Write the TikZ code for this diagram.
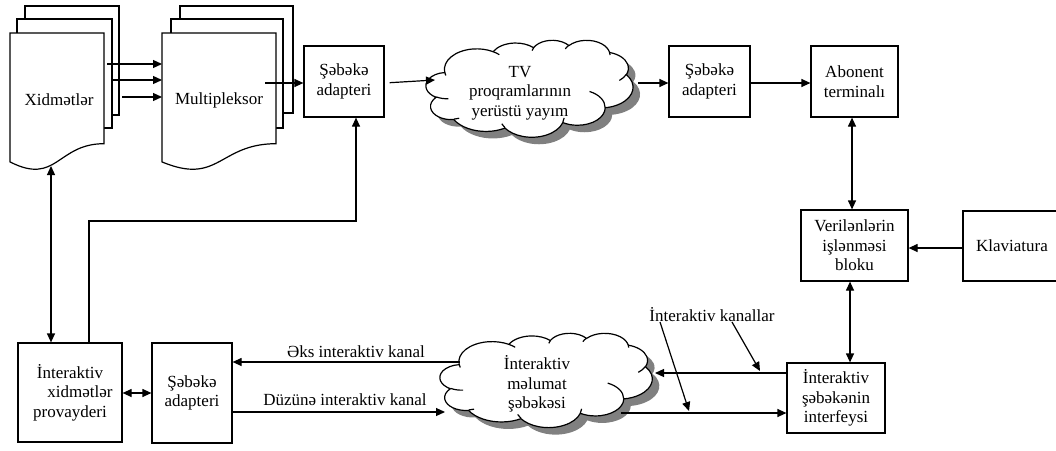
\documentclass[tikz,border=0pt]{standalone}
\usepackage{fontspec}
\setmainfont{Liberation Serif}
\usetikzlibrary{arrows.meta}

% Elliptical arc given by its radii and by the visual start angle and sweep
% (degrees); stores the matching TikZ arc operation in \<name>.
\newcommand\defarc[5]{%
  \pgfmathsetmacro\cta{atan2((#2)*sin(#4),(#3)*cos(#4))}%
  \pgfmathsetmacro\ctb{atan2((#2)*sin((#4)+(#5)),(#3)*cos((#4)+(#5)))}%
  \pgfmathsetmacro\ctd{mod(\ctb-\cta+720,360)}%
  \expandafter\xdef\csname #1\endcsname{arc[x radius=#2, y radius=#3, start angle=\cta, delta angle=\ctd]}%
}
% cloud outline, in a 43200 x 43200 frame
\defarc{cldA}{6753}{9190}{-190.4875}{123.7805}
\defarc{cldB}{5333}{7267}{-144.1024}{89.9452}
\defarc{cldC}{4365}{5945}{-145.8079}{99.7230}
\defarc{cldD}{4857}{6595}{-130.9861}{117.2417}
\defarc{cldE}{5333}{7273}{-78.7089}{109.0269}
\defarc{cldF}{6775}{9220}{-46.2673}{130.2690}
\defarc{cldG}{5785}{7867}{0.6250}{114.0333}
\defarc{cldH}{6752}{9215}{22.4516}{115.1726}
\defarc{cldI}{7720}{10543}{66.2426}{75.7110}
\defarc{cldJ}{4360}{5918}{-274.9421}{146.7356}
\defarc{cldK}{4345}{5945}{-246.8285}{152.5189}
% inner curls of the cloud
\defarc{crlA}{4345}{5945}{86.7420}{26.4295}
\defarc{crlB}{4360}{5918}{73.6105}{11.4475}
\defarc{crlC}{6752}{9215}{137.6242}{14.0811}
\defarc{crlD}{6752}{9215}{6.4533}{15.9984}
\defarc{crlE}{5785}{7867}{-70.2924}{70.9174}
\defarc{crlF}{5333}{7273}{30.3180}{27.7515}
\defarc{crlG}{4857}{6595}{-13.7443}{14.8589}
\defarc{crlH}{4857}{6595}{-149.1815}{18.1954}
\defarc{crlI}{4365}{5945}{-163.4943}{17.6864}
\defarc{crlJ}{6753}{9190}{-66.7070}{12.3194}
\defarc{crlK}{6753}{9190}{157.6544}{11.8582}

\newcommand\cloudpath{(3900,14370) \cldA \cldB \cldC \cldD \cldE \cldF \cldG \cldH \cldI \cldJ \cldK -- cycle}
\newcommand\cloudcurls{(4693,26177) \crlA (6928,34899) \crlB (16478,39090) \crlC
  (28827,34751) \crlD (34129,22954) \crlE (41798,15354) \crlF (38324,5426) \crlG
  (29078,3952) \crlH (22141,4720) \crlI (14000,5192) \crlJ (4127,15789) \crlK}

\begin{document}
\begin{tikzpicture}[x=1pt,y=-1pt,
  every node/.style={font=\fontsize{17}{19.5}\selectfont},
  box/.style={draw, line width=1.2pt, inner sep=0pt, align=center},
  ln/.style={line width=1.2pt},
  arr/.style={ln, -{Triangle[length=9pt,width=8pt]}},
  dbl/.style={ln, {Triangle[length=9pt,width=8pt]}-{Triangle[length=9pt,width=8pt]}},
  page/.style={draw, line width=1.2pt, fill=white},
  cloudline/.style={line width=1.2pt},
  cloudshadow/.style={fill=black!50},
]
\useasboundingbox (0,0) rectangle (1056,450);
\clip (0,0) rectangle (1056,450);

% --- service documents (stacked pages) ---
\draw[page] (25,6) rectangle (119,115);
\draw[page] (17,19) rectangle (112,128);
\draw[page] (10,33) -- (104,33) -- (104,143.7)
  .. controls (57,143.7) and (57,185.8) .. (10,161.9) -- cycle;
\node (xid) at (59,100) {Xidmətlər};
\coordinate (xidbot) at (51,166);

% --- multiplexer (stacked pages) ---
\draw[page] (180,6) rectangle (293,113);
\draw[page] (171,19) rectangle (283,128);
\draw[page] (162,33) -- (276,33) -- (276,143.7)
  .. controls (219,143.7) and (219,185.8) .. (162,161.9) -- cycle;
\node (mux) at (219,100) {Multipleksor};

% page outputs to the multiplexer
\coordinate (s1) at (107,64);  \coordinate (t1) at (162,64);
\coordinate (s2) at (113,80);  \coordinate (t2) at (162,80);
\coordinate (s3) at (122,97);  \coordinate (t3) at (162,97);
\draw[arr] (s1) -- (t1);
\draw[arr] (s2) -- (t2);
\draw[arr] (s3) -- (t3);
\coordinate (muxout) at (265,83);

% --- blocks ---
\node[box, minimum width=80pt, minimum height=71pt] (ad1) at (344,81.5) {Şəbəkə\\adapteri};
\node[box, minimum width=81pt, minimum height=71pt] (ad2) at (709.5,81.5) {Şəbəkə\\adapteri};
\node[box, minimum width=87pt, minimum height=71pt] (abon) at (854.5,81.5) {Abonent\\terminalı};
\node[box, minimum width=107pt, minimum height=71pt] (proc) at (854.5,245.5) {Verilənlərin\\işlənməsi\\bloku};
\node[box, minimum width=98pt, minimum height=70pt] (klav) at (1012,246) {Klaviatura};
\node[box, minimum width=98pt, minimum height=70pt] (ifc) at (836,398) {İnteraktiv\\şəbəkənin\\interfeysi};
\node[box, minimum width=104pt, minimum height=99pt] (prov) at (70,392.5) {İnteraktiv\\\hspace*{20pt}xidmətlər\\provayderi};
\node[box, minimum width=80pt, minimum height=100pt] (ad3) at (192,393) {Şəbəkə\\adapteri};

% --- broadcast cloud ---
\begin{scope}[shift={(433,47)}, x=0.0047917pt, y=-0.0022454pt]
  \fill[cloudshadow] \cloudpath;
\end{scope}
\begin{scope}[shift={(426,40)}, x=0.0047917pt, y=-0.0022454pt]
  \filldraw[cloudline, fill=white] \cloudpath;
  \draw[cloudline] \cloudcurls;
\end{scope}
\node[align=center] (tv) at (520,93) {TV\\proqramlarının\\yerüstü yayım};

% --- interactive network cloud ---
\begin{scope}[shift={(447,340)}, x=0.0049074pt, y=-0.0021759pt]
  \fill[cloudshadow] \cloudpath;
\end{scope}
\begin{scope}[shift={(440,333)}, x=0.0049074pt, y=-0.0021759pt]
  \filldraw[cloudline, fill=white] \cloudpath;
  \draw[cloudline] \cloudcurls;
\end{scope}
\node[align=center] (net) at (537,384) {İnteraktiv\\məlumat\\şəbəkəsi};

% cloud edge points
\coordinate (tvin)  at (435,80);
\coordinate (tvout) at (638,83);
\coordinate (netA)  at (460,362);
\coordinate (netB)  at (445,412);
\coordinate (netC)  at (655,373);
\coordinate (netD)  at (621,413);

% --- upper chain ---
\draw[arr] (muxout) -- (muxout -| ad1.west);
\draw[arr, shorten <=5pt] (ad1.east |- 0,83) -- (tvin);
\draw[arr] (tvout) -- (tvout -| ad2.west);
\draw[arr] (ad2.east |- 0,83) -- (abon.west |- 0,83);
\draw[dbl] (abon.south -| 852,0) -- (proc.north -| 852,0);
\draw[arr] (klav.west |- 0,248) -- (proc.east |- 0,248);
\draw[dbl] (proc.south -| 850,0) -- (ifc.north -| 850,0);

% --- provider links ---
\draw[dbl] (xidbot) -- (prov.north -| xidbot);
\draw[arr] (prov.north -| 89,0) |- (356,221) -- (ad1.south -| 356,0);
\draw[dbl] (prov.east |- 0,393) -- (ad3.west |- 0,393);

% --- interactive channels ---
\draw[arr] (netA) -- (ad3.east |- netA);
\draw[arr] (ad3.east |- netB) -- (netB);
\draw[arr] (ifc.west |- netC) -- (netC);
\draw[arr] (netD) -- (ifc.west |- netD);

\node (eks) at (356,352) {Əks interaktiv kanal};
\node (duz) at (345,400) {Düzünə interaktiv kanal};
\node (kan) at (712,315) {İnteraktiv kanallar};
\coordinate (k1) at (689,411);
\coordinate (k2) at (760,371);
\draw[arr] (660,322) -- (k1);
\draw[arr] (732,322) -- (k2);
\end{tikzpicture}
\end{document}
